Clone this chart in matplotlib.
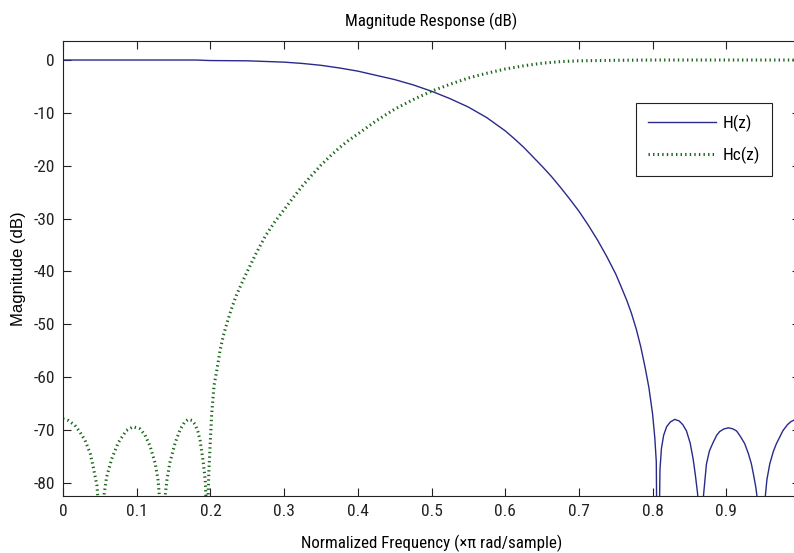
import matplotlib
matplotlib.use("Agg")
import matplotlib.pyplot as plt
from matplotlib import font_manager

# ---------------- data ----------------
h_freq = [0.00, 0.10, 0.18, 0.20, 0.25, 0.30, 0.325, 0.35, 0.375, 0.40,
          0.425, 0.45, 0.475, 0.50, 0.525, 0.55, 0.575, 0.60, 0.6125, 0.625,
          0.6375, 0.65, 0.6625, 0.675, 0.6875, 0.70, 0.7125, 0.725, 0.7375, 0.75,
          0.757, 0.765, 0.771, 0.778, 0.784, 0.79, 0.795, 0.80, 0.803, 0.805, 0.807,
          0.810, 0.812, 0.815, 0.819, 0.824, 0.830, 0.836, 0.841, 0.846, 0.851,
          0.855, 0.858, 0.861, 0.863, 0.865,
          0.867, 0.869, 0.873, 0.877, 0.882, 0.887, 0.891, 0.897, 0.903, 0.909,
          0.914, 0.919, 0.925, 0.930, 0.934, 0.937, 0.940, 0.943, 0.946,
          0.949, 0.952, 0.955, 0.959, 0.964, 0.968, 0.973, 0.977, 0.983, 0.988,
          0.994, 1.000]
h_mag = [0.0, 0.0, 0.0, -0.1, -0.15, -0.4, -0.65, -1.0, -1.5, -2.1,
         -2.9, -3.7, -4.7, -5.9, -7.3, -8.9, -10.9, -13.4, -14.9, -16.5,
         -18.3, -20.1, -22.0, -24.1, -26.3, -28.6, -31.2, -34.0, -37.1, -40.5,
         -42.8, -45.5, -47.8, -51.0, -54.3, -58.3, -62.0, -67.0, -71.5, -76.0, -110.0,
         -77.5, -73.5, -71.0, -69.4, -68.5, -68.0, -68.3, -69.0, -70.2, -72.5,
         -75.5, -78.5, -82.0, -86.0, -110.0,
         -88.0, -82.5, -76.5, -74.0, -72.4, -71.0, -70.3, -69.8, -69.6, -69.8,
         -70.2, -71.2, -72.6, -74.5, -76.4, -78.5, -80.8, -84.0, -110.0,
         -90.0, -84.0, -79.5, -76.4, -74.0, -72.6, -71.2, -70.1, -69.0, -68.4,
         -68.0, -67.7]

hc_freq = [0.000, 0.007, 0.016, 0.023, 0.030, 0.037, 0.041, 0.046, 0.048, 0.051,
           0.054, 0.056, 0.059, 0.066, 0.075, 0.086, 0.095, 0.1045, 0.111, 0.118,
           0.125, 0.129, 0.131, 0.134,
           0.137, 0.139, 0.141, 0.145, 0.152, 0.159, 0.165, 0.170, 0.175, 0.179,
           0.183, 0.186, 0.190, 0.193, 0.194, 0.196,
           0.197, 0.198, 0.1995, 0.2018, 0.205, 0.209, 0.213, 0.2175, 0.222, 0.228,
           0.235, 0.242, 0.250, 0.262, 0.275, 0.2875, 0.300, 0.3125, 0.325, 0.3375,
           0.350, 0.3625, 0.375, 0.3875, 0.400, 0.425, 0.450, 0.475, 0.500, 0.525,
           0.550, 0.575, 0.600, 0.625, 0.650, 0.675, 0.700, 0.750, 0.800, 1.000]
hc_mag = [-67.9, -68.2, -69.1, -70.4, -72.0, -74.5, -77.0, -80.5, -84.0, -110.0,
          -86.0, -82.0, -79.0, -75.5, -72.4, -70.1, -69.4, -69.8, -70.9, -73.0,
          -76.3, -79.5, -83.0, -110.0,
          -86.0, -82.0, -79.5, -76.2, -72.5, -69.9, -68.5, -68.0, -68.2, -68.9,
          -70.3, -72.0, -75.8, -79.5, -83.0, -110.0,
          -82.0, -77.5, -73.2, -66.9, -61.5, -58.5, -55.0, -52.2, -50.0, -47.3,
          -44.6, -42.4, -40.0, -36.6, -33.2, -30.6, -28.3, -26.0, -23.8, -21.8,
          -19.9, -18.2, -16.6, -15.2, -14.0, -11.5, -9.3, -7.5, -5.9, -4.6,
          -3.4, -2.5, -1.7, -1.1, -0.6, -0.3, -0.15, -0.05, 0.0, 0.0]

series_labels = ["H(z)", "Hc(z)"]
x_ticks = [0, 0.1, 0.2, 0.3, 0.4, 0.5, 0.6, 0.7, 0.8, 0.9]
x_tick_labels = ["0", "0.1", "0.2", "0.3", "0.4", "0.5", "0.6", "0.7", "0.8", "0.9"]
y_ticks = [0, -10, -20, -30, -40, -50, -60, -70, -80]
y_tick_labels = ["0", "-10", "-20", "-30", "-40", "-50", "-60", "-70", "-80"]

# ---------------- fonts ----------------
def pick_font(names):
    for n in names:
        try:
            font_manager.findfont(font_manager.FontProperties(family=n), fallback_to_default=False)
            return n
        except Exception:
            continue
    return "DejaVu Sans"

fam = pick_font(["Liberation Sans Narrow", "Roboto Condensed", "DejaVu Sans Condensed", "Liberation Sans"])
fam_wide = pick_font(["Liberation Sans", "Arial", "DejaVu Sans"])
plt.rcParams["font.family"] = [fam, "DejaVu Sans"]
fs_tick = 12.5
fs_text = 12.2

W, H = 794, 553
fig = plt.figure(figsize=(W / 100, H / 100), dpi=100)
ax = fig.add_axes([63 / W, (H - 496) / H, 737 / W, 455 / H])

ax.plot(h_freq, h_mag, color="#2a2a8a", lw=1.0, label=series_labels[0])
ax.plot(hc_freq, hc_mag, color="#1a661a", lw=2.2, linestyle=(0, (0.45, 1.05)),
        label=series_labels[1])

ax.set_xlim(0, 1)
ax.set_ylim(-82.5, 3.6)
ax.set_xticks(x_ticks)
ax.set_xticklabels(x_tick_labels)
ax.set_yticks(y_ticks)
ax.set_yticklabels(y_tick_labels)
ax.tick_params(direction="in", length=5.5, width=0.8, top=True, right=True,
               labelsize=fs_tick, pad=6, colors="#222222")
for s in ax.spines.values():
    s.set_linewidth(0.8)
    s.set_color("#222222")

ax.set_title("Magnitude Response (dB)", fontsize=fs_text, pad=11)
ax.set_xlabel("Normalized Frequency (\u00d7\u03c0 rad/sample)", fontsize=fs_text, labelpad=11)
ax.set_ylabel("Magnitude (dB)", fontsize=12, labelpad=5, family=[fam_wide, "DejaVu Sans"])

leg = ax.legend(loc="upper left", bbox_to_anchor=(636 / W, 1 - 103 / H),
                bbox_transform=fig.transFigure, borderaxespad=0, fancybox=False,
                edgecolor="#222222", framealpha=1, fontsize=fs_tick, handlelength=3.9,
                handletextpad=0.4, borderpad=0.7, labelspacing=0.8)
leg.get_frame().set_linewidth(0.8)

fig.savefig("out.png", dpi=100)
